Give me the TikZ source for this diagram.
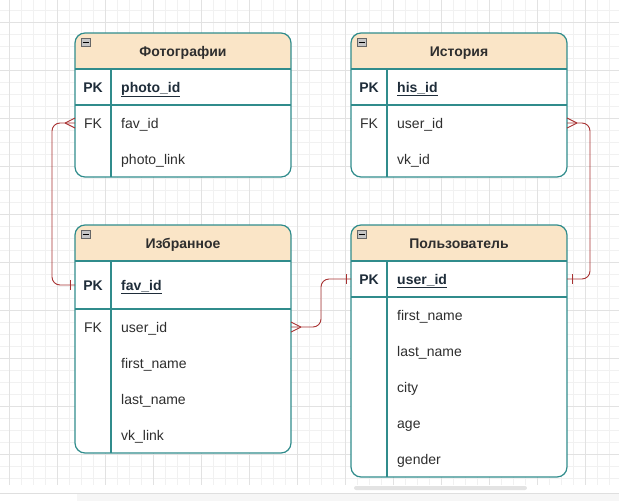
\documentclass[tikz,border=0pt]{standalone}
\usepackage{fontspec}
\setmainfont{Liberation Sans}
\usetikzlibrary{calc}
\definecolor{tableteal}{HTML}{308C8C}
\definecolor{headfill}{HTML}{FAE5C7}
\definecolor{relred}{HTML}{A83232}
\definecolor{textgray}{HTML}{2E2E2E}
\definecolor{keyblue}{HTML}{1F2D3A}
\definecolor{gridminor}{HTML}{F1F1F1}
\definecolor{gridmajor}{HTML}{E2E2E2}
\tikzset{
  tableline/.style={draw=tableteal, line width=1.2pt},
  relline/.style={draw=relred, line width=0.9pt},
  tabletitle/.style={anchor=base, inner sep=0pt, text=textgray, font=\fontsize{14}{16}\selectfont\bfseries},
  keylabel/.style={anchor=base, inner sep=0pt, text=textgray, font=\fontsize{14}{16}\selectfont},
  pklabel/.style={keylabel, text=keyblue, font=\fontsize{14}{16}\selectfont\bfseries},
  fieldname/.style={anchor=base west, inner sep=0pt, text=textgray, font=\fontsize{14}{16}\selectfont},
  pkname/.style={fieldname, text=keyblue, font=\fontsize{14}{16}\selectfont\bfseries},
}
% table: (left,top)(right,bottom)(header bottom,pk row bottom,key column)
\def\ertable(#1,#2)(#3,#4)(#5,#6,#7){%
  \begin{scope}
    \clip[rounded corners=10] (#1,#2) rectangle (#3,#4);
    \fill[white] (#1,#2) rectangle (#3,#4);
    \fill[headfill] (#1,#2) rectangle (#3,#5);
  \end{scope}
  \draw[tableline, rounded corners=10] (#1,#2) rectangle (#3,#4);
  \draw[tableline] (#1,#5) -- (#3,#5) (#1,#6) -- (#3,#6) (#7,#5) -- (#7,#4);
  \draw[fill=gray!45, draw=gray!80!black, line width=0.6pt] (#1+6,#2+5) rectangle (#1+15,#2+13);
  \draw[black, line width=1pt] (#1+7.5,#2+9) -- (#1+13.5,#2+9);
}
% crow's foot (many) and bar (one), #2 = side of the line
\def\manyend(#1)(#2){\draw[relline] ($(#1)+(#2*10,0)$) -- ($(#1)+(0,5)$) ($(#1)+(#2*10,0)$) -- ($(#1)+(0,-5)$);}
\def\oneend(#1)(#2){\draw[relline] ($(#1)+(#2*5,-5)$) -- ($(#1)+(#2*5,5)$);}

\begin{document}
\begin{tikzpicture}[x=1pt, y=-1pt]
  \useasboundingbox (0,0) rectangle (619,501);
  %%%%% GRID %%%%%
  \foreach \gx in {9,21,...,609} \draw[gridminor, line width=0.6pt] (\gx,0) -- (\gx,485);
  \foreach \gy in {10,22,...,478} \draw[gridminor, line width=0.6pt] (0,\gy) -- (619,\gy);
  \foreach \gx in {9,57,...,585} \draw[gridmajor, line width=0.6pt] (\gx,0) -- (\gx,485);
  \foreach \gy in {22,70,...,454} \draw[gridmajor, line width=0.6pt] (0,\gy) -- (619,\gy);
  \draw[gray!25, line width=0.8pt] (0,493) -- (619,493);
  \fill[gray!7] (77,493.5) rectangle (619,501);
  \fill[gray!22, rounded corners=2] (354,486) rectangle (527,490);

  %%%%% TABLES %%%%%
  \ertable(75,33)(291,177)(69,105,111)
  \node[tabletitle] (fotoTitle) at (183,56) {Фотографии};
  \node[pklabel] (fotoPK) at (93,92) {PK};
  \node[pkname] (fotoPKname) at (121,92) {\underline{photo\_id}};
  \node[keylabel] (fotoFK) at (93,128) {FK};
  \node[fieldname] (fotoFav) at (121,128) {fav\_id};
  \node[fieldname] (fotoLink) at (121,164) {photo\_link};

  \ertable(351,33)(567,177)(69,105,387)
  \node[tabletitle] (hisTitle) at (459,56) {История};
  \node[pklabel] (hisPK) at (369,92) {PK};
  \node[pkname] (hisPKname) at (397,92) {\underline{his\_id}};
  \node[keylabel] (hisFK) at (369,128) {FK};
  \node[fieldname] (hisUser) at (397,128) {user\_id};
  \node[fieldname] (hisVk) at (397,164) {vk\_id};

  \ertable(75,225)(291,453)(261,309,111)
  \node[tabletitle] (favTitle) at (183,248) {Избранное};
  \node[pklabel] (favPK) at (93,290) {PK};
  \node[pkname] (favPKname) at (121,290) {\underline{fav\_id}};
  \node[keylabel] (favFK) at (93,332) {FK};
  \node[fieldname] (favUser) at (121,332) {user\_id};
  \node[fieldname] (favFirst) at (121,368) {first\_name};
  \node[fieldname] (favLast) at (121,404) {last\_name};
  \node[fieldname] (favVk) at (121,440) {vk\_link};

  \ertable(351,225)(567,477)(261,297,387)
  \node[tabletitle] (userTitle) at (459,248) {Пользователь};
  \node[pklabel] (userPK) at (369,284) {PK};
  \node[pkname] (userPKname) at (397,284) {\underline{user\_id}};
  \node[fieldname] (userFirst) at (397,320) {first\_name};
  \node[fieldname] (userLast) at (397,356) {last\_name};
  \node[fieldname] (userCity) at (397,392) {city};
  \node[fieldname] (userAge) at (397,428) {age};
  \node[fieldname] (userGender) at (397,464) {gender};

  %%%%% RELATIONS %%%%%
  \coordinate (fotoFKend) at (75,123);
  \coordinate (favPKend) at (75,285);
  \coordinate (favFKend) at (291,327);
  \coordinate (userPKleft) at (351,279);
  \coordinate (hisFKend) at (567,123);
  \coordinate (userPKright) at (567,279);

  \draw[relline, rounded corners=8] (fotoFKend) -- ($(fotoFKend)+(-23,0)$) |- (favPKend);
  \manyend(fotoFKend)(-1)
  \oneend(favPKend)(-1)

  \draw[relline, rounded corners=8] (favFKend) -- ($(favFKend)+(30,0)$) |- (userPKleft);
  \manyend(favFKend)(1)
  \oneend(userPKleft)(-1)

  \draw[relline, rounded corners=8] (hisFKend) -- ($(hisFKend)+(23,0)$) |- (userPKright);
  \manyend(hisFKend)(1)
  \oneend(userPKright)(1)
\end{tikzpicture}
\end{document}
